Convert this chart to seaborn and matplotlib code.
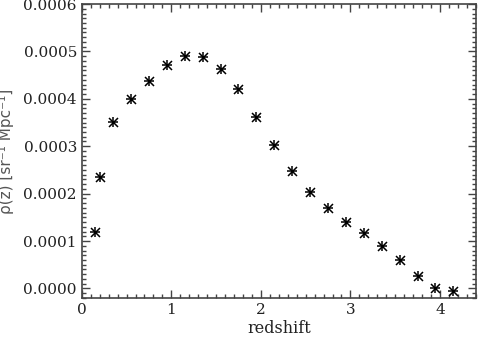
import matplotlib
matplotlib.use("Agg")
import matplotlib.pyplot as plt
from matplotlib.ticker import MultipleLocator, FormatStrFormatter
import pandas as pd
import seaborn as sns

redshift = [0.15, 0.20, 0.35, 0.55, 0.75, 0.95, 1.15, 1.35, 1.55, 1.75, 1.95,
            2.15, 2.35, 2.55, 2.75, 2.95, 3.15, 3.35, 3.55, 3.75, 3.95, 4.15]
density = [0.000120, 0.000236, 0.000352, 0.000400, 0.000438, 0.000471,
           0.000491, 0.000489, 0.000463, 0.000420, 0.000362, 0.000303,
           0.000248, 0.000203, 0.000169, 0.000141, 0.000117, 0.000090,
           0.000059, 0.000026, 0.000001, -0.000005]

df = pd.DataFrame({"redshift": redshift, "rho": density})

sns.set_theme(style="ticks")
plt.rcParams["font.family"] = ["DejaVu Serif"]

fig = plt.figure(figsize=(4.84, 3.37), dpi=100)
ax = fig.add_axes([0.169, 0.116, 0.814, 0.872])

# IDL-style asterisk: plus + cross on top of each other
for m in ["+", "x"]:
    sns.scatterplot(data=df, x="redshift", y="rho", marker=m, s=42,
                    color="black", linewidth=1.1, ax=ax, legend=False)

ax.set_xlim(0, 4.4)
ax.set_ylim(-0.00002, 0.0006)
ax.xaxis.set_major_locator(MultipleLocator(1))
ax.xaxis.set_minor_locator(MultipleLocator(0.1))
ax.yaxis.set_major_locator(MultipleLocator(0.0001))
ax.yaxis.set_minor_locator(MultipleLocator(0.00001))
ax.yaxis.set_major_formatter(FormatStrFormatter("%.4f"))
ax.tick_params(which="both", direction="in", top=True, right=True,
               color="#444444", labelsize=11, labelcolor="#222222")
ax.tick_params(which="major", length=6, width=1)
ax.tick_params(which="minor", length=3, width=1)
for s in ax.spines.values():
    s.set_color("#444444")
    s.set_linewidth(1.2)

ax.set_xlabel("redshift", fontsize=11.5, color="#222222", labelpad=2)
ax.set_ylabel("ρ(z) [sr⁻¹ Mpc⁻¹]", fontsize=11, color="#555555",
              family="DejaVu Sans", labelpad=7)

fig.savefig("out.png", dpi=100)
